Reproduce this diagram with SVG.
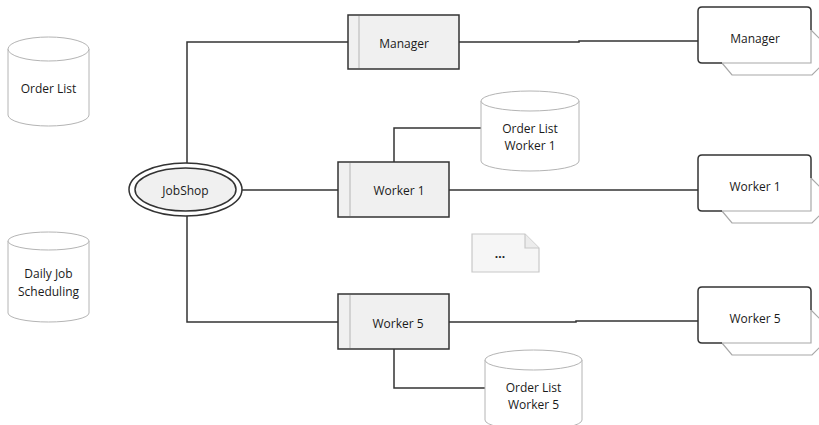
<svg xmlns="http://www.w3.org/2000/svg" width="819" height="425" viewBox="0 0 819 425">
<style>
text{font-family:"Open Sans","Noto Sans",sans-serif;font-size:12px;fill:#1a1a1a;text-anchor:middle;dominant-baseline:central}
.conn{fill:none;stroke:#333;stroke-width:1.5}
.proc{fill:#f0f0f0;stroke:#333;stroke-width:1.5}
.inner{stroke:#c8c8c8;stroke-width:1.5}
.cyl{fill:#fff;stroke:#b4b4b4;stroke-width:1}
.dark{fill:none;stroke:#333;stroke-width:1.5}
.gray{fill:none;stroke:#a8a8a8;stroke-width:1.2}
</style>
<rect width="819" height="425" fill="#fff"/>
<g id="connectors">
<path class="conn" d="M187,163 V42 H348"/>
<path class="conn" d="M242,190 H338"/>
<path class="conn" d="M187,216 V322 H338"/>
<path class="conn" d="M459,42 H579 V41 H698"/>
<path class="conn" d="M394,162 V128 H481"/>
<path class="conn" d="M449,190 H698"/>
<path class="conn" d="M394,349 V388 H485"/>
<path class="conn" d="M449,322 H576 V321 H698"/>
</g>
<g id="orderlist">
<path class="cyl" d="M8,49 V115 A40.5,11 0 0 0 89,115 V49"/>
<ellipse class="cyl" cx="48.5" cy="49" rx="40.5" ry="12"/>
<text x="48.5" y="88">Order List</text>
</g>
<g id="dailyjob">
<path class="cyl" d="M8,241 V313 A40.5,9 0 0 0 89,313 V241"/>
<ellipse class="cyl" cx="48.5" cy="241" rx="40.5" ry="9"/>
<text x="48.5" y="273">Daily Job</text>
<text x="48.5" y="291">Scheduling</text>
</g>
<g id="jobshop">
<ellipse cx="185.5" cy="189.5" rx="56.5" ry="26.5" fill="#fff" stroke="#333" stroke-width="1.5"/>
<ellipse cx="185.5" cy="189.5" rx="50.5" ry="21.5" fill="#f0f0f0" stroke="#333" stroke-width="1.5"/>
<text x="185.5" y="190">JobShop</text>
</g>
<g id="manager">
<rect class="proc" x="348" y="15" width="111" height="54"/>
<line class="inner" x1="359" y1="16" x2="359" y2="68"/>
<text x="404" y="43">Manager</text>
</g>
<g id="worker1">
<rect class="proc" x="338" y="162" width="111" height="55"/>
<line class="inner" x1="350" y1="163" x2="350" y2="216"/>
<text x="399" y="190">Worker 1</text>
</g>
<g id="worker5">
<rect class="proc" x="338" y="294" width="111" height="55"/>
<line class="inner" x1="350" y1="295" x2="350" y2="348"/>
<text x="398" y="323">Worker 5</text>
</g>
<g id="orderlist-w1">
<path class="cyl" d="M481,101 V161 A49,10 0 0 0 579,161 V101"/>
<ellipse class="cyl" cx="530" cy="101" rx="49" ry="10"/>
<text x="530" y="128">Order List</text>
<text x="530" y="145">Worker 1</text>
</g>
<g id="orderlist-w5">
<path class="cyl" d="M485,360 V420 A48.5,10 0 0 0 582,420 V360"/>
<ellipse class="cyl" cx="533.5" cy="360" rx="48.5" ry="10"/>
<text x="533.5" y="387">Order List</text>
<text x="533.5" y="404">Worker 5</text>
</g>
<g id="ellipsis">
<path d="M472,234 H525 L539,248 V272 H472 Z" fill="#f6f6f6" stroke="#c8c8c8" stroke-width="1.2"/>
<path d="M525,234 V248 H539" fill="#ececec" stroke="#c8c8c8" stroke-width="1.2"/>
<text x="500" y="253" font-weight="bold">...</text>
</g>
<g id="manager-ext">
<path class="gray" d="M722,63 L732,75 L812,75 L822,65 L822,41 L811,30"/>
<rect x="698" y="7" width="113" height="56" rx="4" fill="#fff"/>
<path class="gray" d="M811,30 V63 H722"/>
<path class="dark" d="M722,63 H702 Q698,63 698,59 V11 Q698,7 702,7 H807 Q811,7 811,11 V30"/>
<text x="755" y="38">Manager</text>
</g>
<g id="worker1-ext">
<path class="gray" d="M722,211 L732,223 L812,223 L822,213 L822,189 L811,178"/>
<rect x="698" y="155" width="113" height="56" rx="4" fill="#fff"/>
<path class="gray" d="M811,178 V211 H722"/>
<path class="dark" d="M722,211 H702 Q698,211 698,207 V159 Q698,155 702,155 H807 Q811,155 811,159 V178"/>
<text x="755" y="186">Worker 1</text>
</g>
<g id="worker5-ext">
<path class="gray" d="M722,343 L732,355 L812,355 L822,345 L822,321 L811,310"/>
<rect x="698" y="287" width="113" height="56" rx="4" fill="#fff"/>
<path class="gray" d="M811,310 V343 H722"/>
<path class="dark" d="M722,343 H702 Q698,343 698,339 V291 Q698,287 702,287 H807 Q811,287 811,291 V310"/>
<text x="755" y="318">Worker 5</text>
</g>
</svg>
